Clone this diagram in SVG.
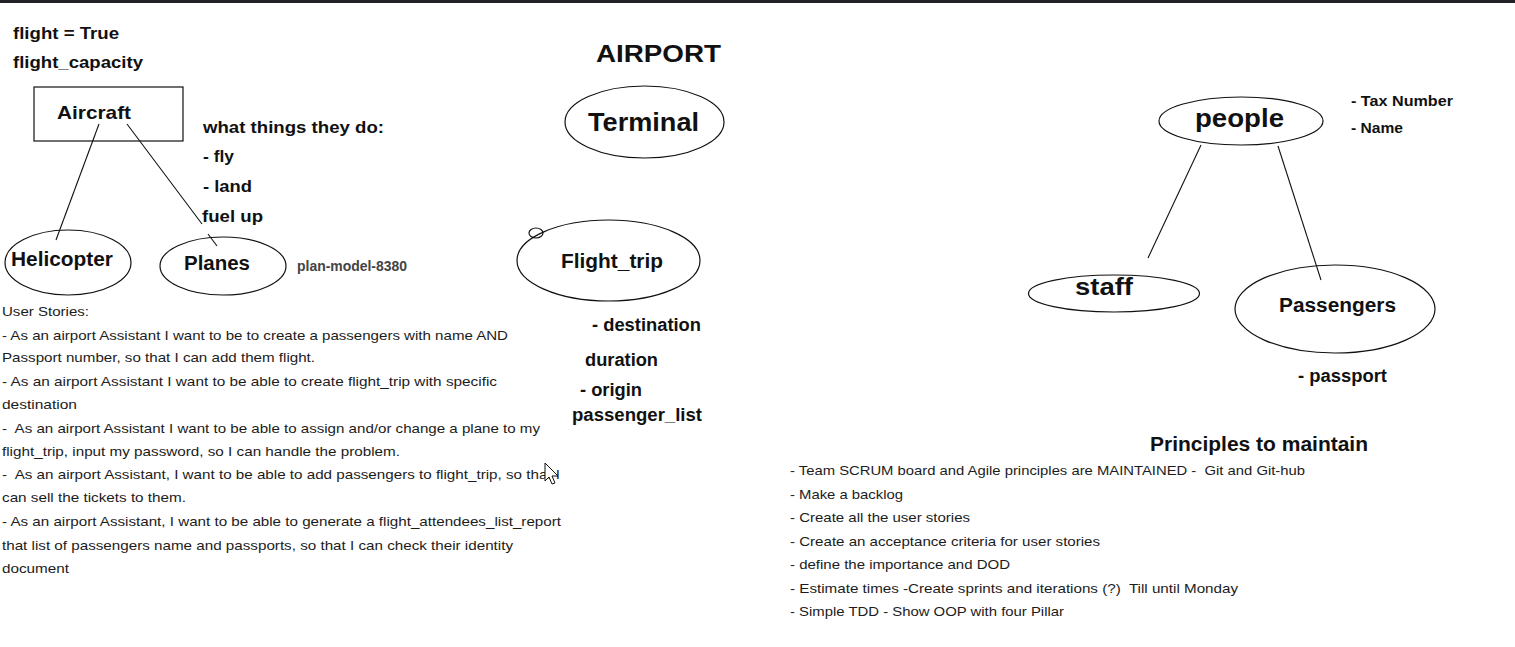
<svg xmlns="http://www.w3.org/2000/svg" width="1515" height="647" viewBox="0 0 1515 647">
<style>
.b{font-family:"Liberation Sans",Arial,sans-serif;font-weight:bold;fill:#111}
.r{font-family:"Liberation Sans",Arial,sans-serif;font-size:13px;fill:#1c1c1c;white-space:pre}
.shape{fill:none;stroke:#111;stroke-width:1.2}
.conn line{stroke:#111;stroke-width:1.1}
</style>
<rect x="0" y="0" width="1515" height="647" fill="#ffffff"/>
<rect x="0" y="0" width="1515" height="3" fill="#222226"/>

<g id="notes-top-left">
<text class="b" x="13" y="39" font-size="17" textLength="106" lengthAdjust="spacingAndGlyphs">flight = True</text>
<text class="b" x="13" y="68" font-size="17" textLength="130" lengthAdjust="spacingAndGlyphs">flight_capacity</text>
<text class="b" x="203" y="133" font-size="17" textLength="181" lengthAdjust="spacingAndGlyphs">what things they do:</text>
<text class="b" x="203" y="162" font-size="17" textLength="31" lengthAdjust="spacingAndGlyphs">- fly</text>
<text class="b" x="203" y="192" font-size="17" textLength="49" lengthAdjust="spacingAndGlyphs">- land</text>
<text class="b" x="202" y="222" font-size="17" textLength="61" lengthAdjust="spacingAndGlyphs">fuel up</text>
<text class="b" x="297" y="271" font-size="14" style="fill:#444" textLength="110" lengthAdjust="spacingAndGlyphs">plan-model-8380</text>
</g>

<g class="conn" id="connectors">
<line x1="99" y1="124" x2="56" y2="240"/>
<line x1="127" y1="124" x2="202" y2="224"/>
<line x1="208" y1="234" x2="217" y2="246"/>
<line x1="1201" y1="145" x2="1148" y2="258"/>
<line x1="1278" y1="146" x2="1321" y2="280"/>
</g>

<g id="aircraft">
<rect class="shape" x="34" y="87" width="149" height="54"/>
<text class="b" x="57" y="119" font-size="19" textLength="74" lengthAdjust="spacingAndGlyphs">Aircraft</text>
</g>
<g id="helicopter">
<ellipse class="shape" cx="68" cy="262.5" rx="63" ry="32.5"/>
<text class="b" x="11" y="266" font-size="20" textLength="102" lengthAdjust="spacingAndGlyphs">Helicopter</text>
</g>
<g id="planes">
<ellipse class="shape" cx="223" cy="266" rx="63" ry="29"/>
<text class="b" x="184" y="270" font-size="20" textLength="66" lengthAdjust="spacingAndGlyphs">Planes</text>
</g>

<g id="title">
<text class="b" x="596" y="62" font-size="24" textLength="125" lengthAdjust="spacingAndGlyphs">AIRPORT</text>
</g>
<g id="terminal">
<ellipse class="shape" cx="644.5" cy="122" rx="79.5" ry="36"/>
<text class="b" x="588" y="131" font-size="26" textLength="111" lengthAdjust="spacingAndGlyphs">Terminal</text>
</g>
<g id="flight_trip">
<ellipse class="shape" cx="608.5" cy="260.5" rx="91.5" ry="40.5"/>
<ellipse class="shape" cx="536" cy="233" rx="7" ry="5"/>
<text class="b" x="561" y="268" font-size="21" textLength="102" lengthAdjust="spacingAndGlyphs">Flight_trip</text>
<text class="b" x="592" y="331" font-size="17.5" textLength="109" lengthAdjust="spacingAndGlyphs">- destination</text>
<text class="b" x="585" y="366" font-size="17.5" textLength="73" lengthAdjust="spacingAndGlyphs">duration</text>
<text class="b" x="580" y="396" font-size="17.5" textLength="62" lengthAdjust="spacingAndGlyphs">- origin</text>
<text class="b" x="572" y="421" font-size="17.5" textLength="130" lengthAdjust="spacingAndGlyphs">passenger_list</text>
</g>

<g id="user-stories">
<text class="r" x="2" y="316" textLength="87" lengthAdjust="spacingAndGlyphs">User Stories:</text>
<text class="r" x="2" y="340" textLength="506" lengthAdjust="spacingAndGlyphs">- As an airport Assistant I want to be to create a passengers with name AND</text>
<text class="r" x="2" y="362" textLength="313" lengthAdjust="spacingAndGlyphs">Passport number, so that I can add them flight.</text>
<text class="r" x="2" y="386" textLength="495" lengthAdjust="spacingAndGlyphs">- As an airport Assistant I want to be able to create flight_trip with specific</text>
<text class="r" x="2" y="409" textLength="75" lengthAdjust="spacingAndGlyphs">destination</text>
<text class="r" x="2" y="433" textLength="538" lengthAdjust="spacingAndGlyphs">-  As an airport Assistant I want to be able to assign and/or change a plane to my</text>
<text class="r" x="2" y="456" textLength="398" lengthAdjust="spacingAndGlyphs">flight_trip, input my password, so I can handle the problem.</text>
<text class="r" x="2" y="479" textLength="558" lengthAdjust="spacingAndGlyphs">-  As an airport Assistant, I want to be able to add passengers to flight_trip, so that I</text>
<text class="r" x="2" y="502" textLength="184" lengthAdjust="spacingAndGlyphs">can sell the tickets to them.</text>
<text class="r" x="2" y="526" textLength="559" lengthAdjust="spacingAndGlyphs">- As an airport Assistant, I want to be able to generate a flight_attendees_list_report</text>
<text class="r" x="2" y="550" textLength="511" lengthAdjust="spacingAndGlyphs">that list of passengers name and passports, so that I can check their identity</text>
<text class="r" x="2" y="573" textLength="67" lengthAdjust="spacingAndGlyphs">document</text>
</g>

<g id="cursor">
<polygon points="545,463 545,481 549,477 552,484 555,483 552,476 558,476" fill="#ffffff" stroke="#111" stroke-width="1" stroke-linejoin="round"/>
</g>

<g id="people">
<ellipse class="shape" cx="1241" cy="121" rx="82" ry="24"/>
<text class="b" x="1195" y="127" font-size="25" textLength="89" lengthAdjust="spacingAndGlyphs">people</text>
<text class="b" x="1351" y="106" font-size="15" textLength="102" lengthAdjust="spacingAndGlyphs">- Tax Number</text>
<text class="b" x="1351" y="133" font-size="15" textLength="52" lengthAdjust="spacingAndGlyphs">- Name</text>
</g>
<g id="staff">
<ellipse class="shape" cx="1114" cy="293.5" rx="85.5" ry="18.5"/>
<text class="b" x="1075" y="295" font-size="24" textLength="58" lengthAdjust="spacingAndGlyphs">staff</text>
</g>
<g id="passengers">
<ellipse class="shape" cx="1335" cy="309" rx="100" ry="44"/>
<text class="b" x="1279" y="312" font-size="20" textLength="117" lengthAdjust="spacingAndGlyphs">Passengers</text>
<text class="b" x="1298" y="382" font-size="18" textLength="89" lengthAdjust="spacingAndGlyphs">- passport</text>
</g>

<g id="principles">
<text class="b" x="1150" y="451" font-size="20" textLength="218" lengthAdjust="spacingAndGlyphs">Principles to maintain</text>
<text class="r" x="790" y="475" textLength="515" lengthAdjust="spacingAndGlyphs">- Team SCRUM board and Agile principles are MAINTAINED -  Git and Git-hub</text>
<text class="r" x="790" y="499" textLength="113" lengthAdjust="spacingAndGlyphs">- Make a backlog</text>
<text class="r" x="790" y="522" textLength="180" lengthAdjust="spacingAndGlyphs">- Create all the user stories</text>
<text class="r" x="790" y="546" textLength="310" lengthAdjust="spacingAndGlyphs">- Create an acceptance criteria for user stories</text>
<text class="r" x="790" y="569" textLength="220" lengthAdjust="spacingAndGlyphs">- define the importance and DOD</text>
<text class="r" x="790" y="593" textLength="448" lengthAdjust="spacingAndGlyphs">- Estimate times -Create sprints and iterations (?)  Till until Monday</text>
<text class="r" x="790" y="616" textLength="274" lengthAdjust="spacingAndGlyphs">- Simple TDD - Show OOP with four Pillar</text>
</g>
</svg>
